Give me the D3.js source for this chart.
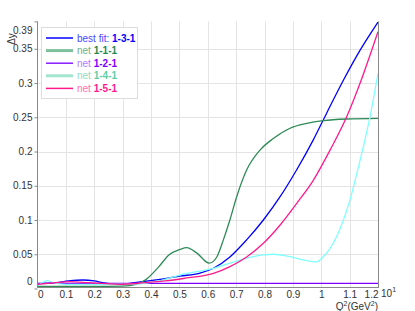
<!DOCTYPE html>
<html>
<head>
<meta charset="utf-8">
<title>Delta y vs Q2</title>
<script src="https://d3js.org/d3.v7.min.js"></script>
<style>
  body { margin: 0; background: #fff; }
  text { font-family: "Liberation Sans", Arial, sans-serif; }
</style>
</head>
<body>
<div id="chart"></div>
<script>
// Q^2 in GeV^2 (axis shows value / 10 with a 10^1 multiplier)
const xTicks = [0, 1, 2, 3, 4, 5, 6, 7, 8, 9, 10, 11, 12];
const yTicks = [0, 0.05, 0.1, 0.15, 0.2, 0.25, 0.3, 0.35, 0.39];

const best131 = [[0,0.007],[0.65,0.0085],[1.1,0.011],[1.6,0.0124],[2.0,0.011],[2.3,0.0085],[2.9,0.006],[3.5,0.009],[4.6,0.015],[5.0,0.018],[5.7,0.022],[6.2,0.0295],[6.78,0.046],[7.37,0.071],[7.96,0.100],[8.55,0.134],[9.13,0.173],[9.72,0.217],[10.19,0.256],[10.78,0.304],[11.37,0.348],[12.0,0.389]];
const net111 = [[0,0.003],[1,0.003],[2,0.003],[3,0.0035],[3.47,0.006],[3.82,0.013],[4.28,0.032],[4.63,0.049],[5.02,0.057],[5.26,0.0596],[5.61,0.052],[6.05,0.037],[6.32,0.046],[6.55,0.071],[6.78,0.100],[7.02,0.134],[7.37,0.173],[7.84,0.202],[8.31,0.219],[8.90,0.234],[9.49,0.241],[10.07,0.245],[10.90,0.2475],[12.0,0.2485]];
const net121 = [[0,0.0075],[6,0.0075],[12,0.0075]];
const net141 = [[0,0.004],[0.35,0.0114],[0.55,0.0085],[1.0,0.006],[2.3,0.006],[3.47,0.0066],[4.3,0.011],[5.02,0.0197],[6.2,0.0295],[7.14,0.0416],[7.96,0.049],[8.31,0.050],[8.90,0.0464],[9.49,0.0406],[9.84,0.039],[10.07,0.0464],[10.54,0.0756],[11.01,0.129],[11.37,0.1876],[11.72,0.251],[12.0,0.314]];
const net151 = [[0,0.006],[0.65,0.0085],[1.1,0.01],[1.8,0.0085],[2.4,0.007],[2.9,0.006],[3.8,0.0085],[4.5,0.011],[5.2,0.015],[6.2,0.022],[6.78,0.032],[7.37,0.046],[7.96,0.066],[8.55,0.0927],[9.13,0.124],[9.72,0.158],[10.31,0.202],[10.90,0.251],[11.37,0.30],[12.0,0.375]];

const seriesNames = ["best fit:|1-3-1", "net|1-1-1", "net|1-2-1", "net|1-4-1", "net|1-5-1"];

const series = [
  {name: seriesNames[0], data: best131, color: "#0000ff", key: "#0000ff", keyW: 1.5, pre: "#4848ff", txt: "#0000ff"},
  {name: seriesNames[1], data: net111, color: "#2e8b57", key: "#7fbf9c", keyW: 3, pre: "#6fb08c", txt: "#1e8a4e"},
  {name: seriesNames[2], data: net121, color: "#7f00ff", key: "#8a1cff", keyW: 1.5, pre: "#b27cff", txt: "#8000ff"},
  {name: seriesNames[3], data: net141, color: "#80ffff", key: "#a3e6d0", keyW: 3, pre: "#90dcc4", txt: "#5fcfa8"},
  {name: seriesNames[4], data: net151, color: "#ff1a8c", key: "#ff1a8c", keyW: 1.5, pre: "#ff6fb5", txt: "#ff1a8c"}
];

const W = 415, H = 311;
const x = d3.scaleLinear().domain([0, 12]).range([37.5, 378]);
const y = d3.scaleLinear().domain([0, 0.39]).range([288.5, 21.4]);

const svg = d3.select("#chart").append("svg")
  .attr("width", W).attr("height", H);

// grid
svg.append("g").selectAll("line").data(xTicks.slice(1, -1)).enter().append("line")
  .attr("x1", d => Math.round(x(d)) + 0.5).attr("x2", d => Math.round(x(d)) + 0.5)
  .attr("y1", y(0.39)).attr("y2", 287.5)
  .attr("stroke", "#e4e4e4");
svg.append("g").selectAll("line").data(yTicks.slice(1, -1)).enter().append("line")
  .attr("y1", d => Math.round(y(d)) + 0.5).attr("y2", d => Math.round(y(d)) + 0.5)
  .attr("x1", 37.5).attr("x2", 378)
  .attr("stroke", "#e4e4e4");

// curves
const line = d3.line()
  .x(d => x(d[0]))
  .y(d => y(d[1]))
  .curve(d3.curveMonotoneX);

svg.append("clipPath").attr("id", "plot")
  .append("rect").attr("x", 37.5).attr("y", 18).attr("width", 341).attr("height", 270);

svg.append("g").attr("clip-path", "url(#plot)")
  .selectAll("path").data(series).enter().append("path")
  .attr("d", d => line(d.data))
  .attr("fill", "none")
  .attr("stroke", d => d.color)
  .attr("stroke-width", 1.3);

// axes
const yAxis = d3.axisLeft(y).tickValues(yTicks).tickSize(3).tickPadding(2)
  .tickFormat(d => String(d));
const gy = svg.append("g").attr("transform", "translate(37.5,0)").call(yAxis);
gy.select(".domain").attr("stroke", "#888").attr("d", "M0," + y(0.39) + "V288");
gy.selectAll(".tick line").attr("stroke", "#888");
gy.selectAll(".tick text").attr("font-size", 10).attr("fill", "#333")
  .attr("font-family", "'Liberation Sans', Arial, sans-serif")
  .attr("dy", d => d === 0 ? "-0.45em" : d === 0.39 ? "1.2em" : "0.32em");

const xAxis = d3.axisBottom(x).tickValues(xTicks).tickSize(0).tickPadding(3)
  .tickFormat(d => String(d / 10));
const gx = svg.append("g").attr("transform", "translate(0,287.5)").call(xAxis);
gx.select(".domain").attr("stroke", "#888").attr("d", "M37.5,0H378.5");
gx.selectAll(".tick text").attr("font-size", 10).attr("fill", "#333")
  .attr("font-family", "'Liberation Sans', Arial, sans-serif")
  .attr("text-anchor", d => d === 0 ? "start" : d === 12 ? "end" : "middle");

// right frame line
svg.append("line").attr("x1", 378.5).attr("x2", 378.5)
  .attr("y1", y(0.39)).attr("y2", 288).attr("stroke", "#888");

// exponent and axis titles
const ex = svg.append("text").attr("x", 381).attr("y", 297).attr("font-size", 10).attr("fill", "#333");
ex.append("tspan").text("10");
ex.append("tspan").attr("dy", -5).attr("font-size", 7).text("1");

const xt = svg.append("text").attr("x", 378).attr("y", 310).attr("text-anchor", "end")
  .attr("font-size", 10).attr("fill", "#333");
xt.append("tspan").text("Q");
xt.append("tspan").attr("dy", -4).attr("font-size", 7).text("2");
xt.append("tspan").attr("dy", 4).text("(GeV");
xt.append("tspan").attr("dy", -4).attr("font-size", 7).text("2");
xt.append("tspan").attr("dy", 4).text(")");

svg.append("text").attr("transform", "translate(15,39) rotate(-90)")
  .attr("text-anchor", "middle").attr("font-size", 10).attr("fill", "#333")
  .text("Δy");

// legend
const lg = svg.append("g");
lg.append("rect").attr("x", 41.5).attr("y", 27.5).attr("width", 96).attr("height", 71)
  .attr("fill", "#fff").attr("stroke", "#dcdcdc");
const rows = lg.selectAll("g.row").data(series).enter().append("g")
  .attr("transform", (d, i) => "translate(0," + (38 + i * 12.6) + ")");
rows.append("line").attr("x1", 46).attr("x2", 73).attr("y1", 0).attr("y2", 0)
  .attr("stroke", d => d.key).attr("stroke-width", d => d.keyW);
const lt = rows.append("text").attr("x", 77).attr("y", 3.5).attr("font-size", 10);
lt.append("tspan").attr("fill", d => d.pre).text(d => d.name.split("|")[0] + " ");
lt.append("tspan").attr("fill", d => d.txt).attr("font-weight", "bold").text(d => d.name.split("|")[1]);
</script>
</body>
</html>
